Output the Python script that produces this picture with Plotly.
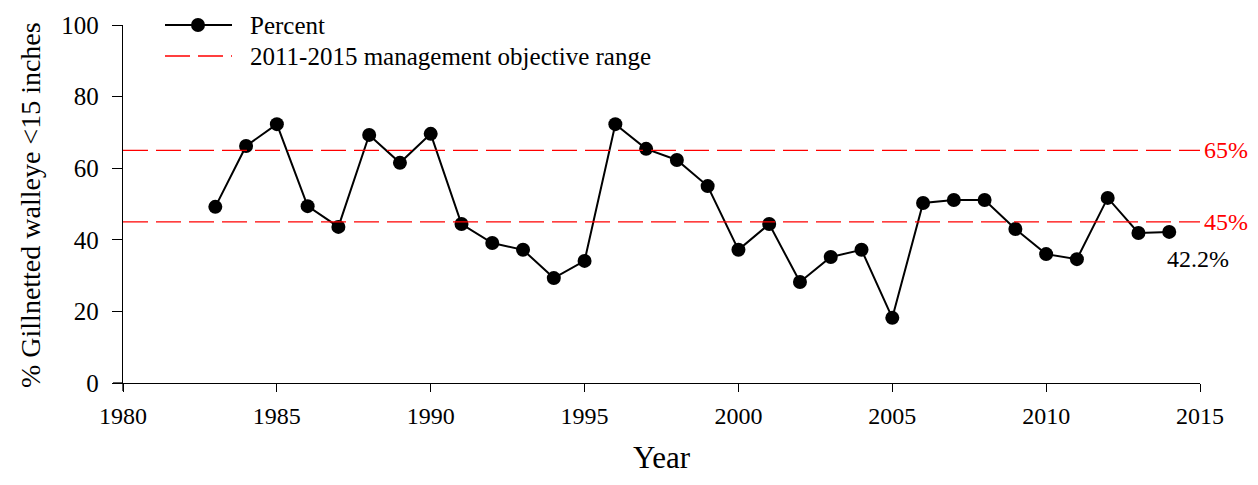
import plotly.graph_objects as go

years = list(range(1983, 2015))
percent = [49.2, 66.2, 72.3, 49.4, 43.6, 69.3, 61.5, 69.6, 44.4, 39.1,
           37.2, 29.3, 34.1, 72.3, 65.4, 62.3, 55.0, 37.2, 44.4, 28.2,
           35.2, 37.2, 18.2, 50.3, 51.1, 51.1, 43.0, 36.0, 34.6, 51.7,
           41.9, 42.2]
objective_low = 45
objective_high = 65
x_ticks = [1980, 1985, 1990, 1995, 2000, 2005, 2010, 2015]
y_ticks = [0, 20, 40, 60, 80, 100]

FONT = "Liberation Serif, Times New Roman, serif"
DASH = "25px,8px"

# page body has an 8px margin, so the figure is a bit smaller than the window
W, H = 1242, 469
OFF = 8
# plot area in figure pixels
L, T = 123 - OFF, 25 - OFF
R, B = W - (1200 - OFF), H - (383 - OFF)
PW, PH = W - L - R, H - T - B


def px_x(p):
    # window pixel -> paper x
    return (p - OFF - L) / PW


def px_y(p):
    # window pixel -> paper y
    return (H - B - (p - OFF)) / PH


fig = go.Figure()
fig.add_trace(go.Scatter(
    x=years, y=percent, mode="lines+markers", name="Percent",
    line=dict(color="black", width=2),
    marker=dict(color="black", size=14),
))
fig.add_trace(go.Scatter(
    x=[1980, 2015, None, 1980, 2015],
    y=[objective_high, objective_high, None, objective_low, objective_low],
    mode="lines", name="2011-2015 management objective range",
    line=dict(color="red", width=1.3, dash=DASH),
))

for val in (objective_high, objective_low):
    fig.add_annotation(x=2015, y=val, text=f"{val}%", showarrow=False,
                       xanchor="left", xshift=2, font=dict(color="red", size=24, family=FONT))
fig.add_annotation(x=years[-1], y=percent[-1], text=f"{percent[-1]}%", showarrow=False,
                   xanchor="left", yanchor="middle", xshift=-4, yshift=-27,
                   font=dict(color="black", size=24, family=FONT))

# hand-drawn legend (long symbol lines like the original)
fig.add_shape(type="line", xref="paper", yref="paper", x0=px_x(165), x1=px_x(232),
              y0=px_y(25), y1=px_y(25), line=dict(color="black", width=2))
fig.add_shape(type="circle", xref="paper", yref="paper", xsizemode="pixel", ysizemode="pixel",
              xanchor=px_x(198), yanchor=px_y(25), x0=-7, x1=7, y0=-7, y1=7,
              fillcolor="black", line=dict(color="black", width=0))
fig.add_shape(type="line", xref="paper", yref="paper", x0=px_x(165), x1=px_x(232),
              y0=px_y(56), y1=px_y(56), line=dict(color="red", width=1.3, dash=DASH))
for ypix, label in ((25, "Percent"), (56, "2011-2015 management objective range")):
    fig.add_annotation(xref="paper", yref="paper", x=px_x(248), y=px_y(ypix), text=label,
                       showarrow=False, xanchor="left", yanchor="middle",
                       font=dict(size=25, family=FONT, color="black"))

# axis titles placed by hand
fig.add_annotation(xref="paper", yref="paper", x=px_x(662), y=px_y(OFF + H), text="Year",
                   showarrow=False, xanchor="center", yanchor="bottom",
                   font=dict(size=31, family=FONT, color="black"))
fig.add_annotation(xref="paper", yref="paper", x=px_x(30), y=px_y(205),
                   text="% Gillnetted walleye <15 inches", textangle=-90,
                   showarrow=False, xanchor="center", yanchor="middle",
                   font=dict(size=28, family=FONT, color="black"))

# axis lines poke past the origin like the original
fig.add_shape(type="line", xref="paper", yref="paper", x0=-10 / PW, x1=0, y0=0, y1=0,
              line=dict(color="black", width=1.3))
fig.add_shape(type="line", xref="paper", yref="paper", x0=0, x1=0, y0=-8 / PH, y1=0,
              line=dict(color="black", width=1.3))

fig.update_layout(
    width=W, height=H,
    margin=dict(l=L, r=R, t=T, b=B, autoexpand=False),
    plot_bgcolor="white", paper_bgcolor="white",
    font=dict(family=FONT, color="black", size=24),
    showlegend=False,
    xaxis=dict(range=[1980, 2015], tickvals=x_ticks, showgrid=False, zeroline=False,
               showline=True, linecolor="black", linewidth=1.3,
               ticks="outside", ticklen=8, tickcolor="black",
               tickfont=dict(size=24, family=FONT), ticklabelstandoff=3),
    yaxis=dict(range=[0, 100], tickvals=y_ticks, showgrid=False, zeroline=False,
               showline=True, linecolor="black", linewidth=1.3,
               ticks="outside", ticklen=10, tickcolor="black",
               tickfont=dict(size=25, family=FONT), ticklabelstandoff=8),
)

fig.write_html("out.html")
